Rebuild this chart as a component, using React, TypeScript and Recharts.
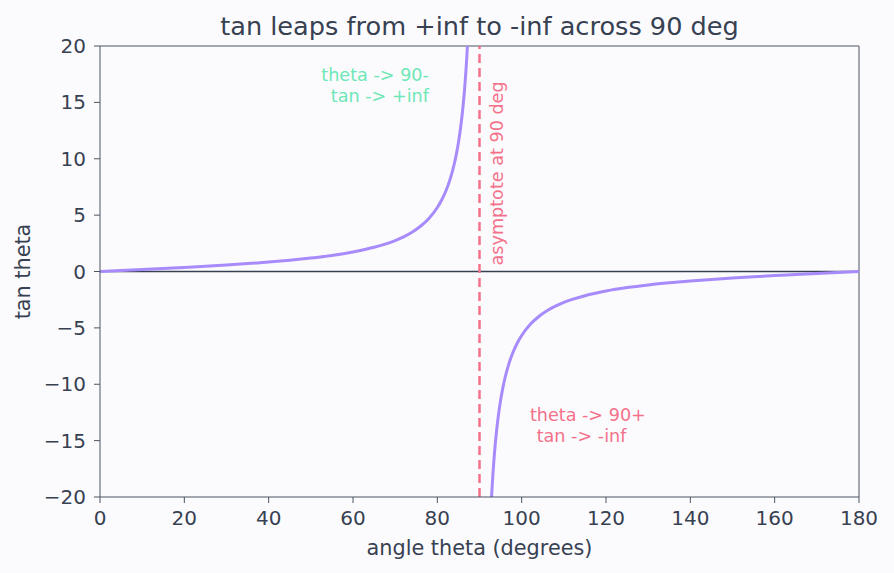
import React from "react";
import {
  LineChart,
  Line,
  XAxis,
  YAxis,
  ReferenceLine,
  ReferenceDot,
} from "recharts";

// Left branch: theta approaching 90 from below (degrees, tan value)
const leftTheta = [0, 5, 10, 15, 20, 25, 30, 35, 40, 45, 50, 55, 60, 65, 68, 70, 72, 74, 76, 78, 80, 81, 82, 83, 84, 84.5, 85, 85.5, 86, 86.5, 87, 87.5, 88];
const leftTan = [0, 0.087, 0.176, 0.268, 0.364, 0.466, 0.577, 0.7, 0.839, 1.0, 1.192, 1.428, 1.732, 2.145, 2.475, 2.747, 3.078, 3.487, 4.011, 4.705, 5.671, 6.314, 7.115, 8.144, 9.514, 10.385, 11.43, 12.706, 14.301, 16.35, 19.081, 22.904, 28.636];

// Right branch: theta leaving 90 from above
const rightTheta = [92, 92.5, 93, 93.5, 94, 94.5, 95, 95.5, 96, 97, 98, 99, 100, 102, 104, 106, 108, 110, 112, 115, 120, 125, 130, 135, 140, 145, 150, 155, 160, 165, 170, 175, 180];
const rightTan = [-28.636, -22.904, -19.081, -16.35, -14.301, -12.706, -11.43, -10.385, -9.514, -8.144, -7.115, -6.314, -5.671, -4.705, -4.011, -3.487, -3.078, -2.747, -2.475, -2.145, -1.732, -1.428, -1.192, -1.0, -0.839, -0.7, -0.577, -0.466, -0.364, -0.268, -0.176, -0.087, 0];

const xTicks = [0, 20, 40, 60, 80, 100, 120, 140, 160, 180];
const yTicks = [-20, -15, -10, -5, 0, 5, 10, 15, 20];

const leftData = leftTheta.map((t, i) => ({ theta: t, tan: leftTan[i] }));
const rightData = rightTheta.map((t, i) => ({ theta: t, tan: rightTan[i] }));

const FONT = "'DejaVu Sans', sans-serif";
const INK = "#374151";
const SPINE = "#4b5563";
const CURVE = "#a78bfa";
const ROSE = "#f4718a";
const MINT = "#6ee7b7";

const TICK_FS = 20;
const LABEL_FS = 20.8;
const NOTE_FS = 17.6;

const fmt = (v: number) => String(v).replace("-", "\u2212");

type Note = { x: number; y: number; text: string; color: string; anchor: "start" | "middle" | "end"; rotate?: boolean };

const notes: Note[] = [
  { x: 78.0, y: 17.4, text: "theta -> 90-", color: MINT, anchor: "end" },
  { x: 78.0, y: 15.6, text: "tan -> +inf", color: MINT, anchor: "end" },
  { x: 115.7, y: -12.75, text: "theta -> 90+", color: ROSE, anchor: "middle" },
  { x: 114.2, y: -14.55, text: "tan -> -inf", color: ROSE, anchor: "middle" },
  { x: 94.1, y: 8.7, text: "asymptote at 90 deg", color: ROSE, anchor: "middle", rotate: true },
];

export default function App() {
  return (
    <div style={{ position: "absolute", left: 0, top: 0, width: 894, height: 573, background: "#fbfbfe", fontFamily: FONT }}>
      <div
        style={{
          position: "absolute",
          left: 0,
          width: 959,
          top: 11,
          textAlign: "center",
          fontSize: 25.6,
          color: INK,
          fontFamily: FONT,
          lineHeight: "30px",
          whiteSpace: "nowrap",
        }}
      >
        tan leaps from +inf to -inf across 90 deg
      </div>
      <LineChart width={894} height={573} margin={{ top: 46, right: 35, bottom: 6, left: 40 }}>
        <XAxis
          type="number"
          dataKey="theta"
          domain={[0, 180]}
          ticks={xTicks}
          allowDataOverflow
          height={70}
          stroke={SPINE}
          tickSize={6}
          tickMargin={8}
          tick={{ fill: INK, fontSize: TICK_FS, fontFamily: FONT }}
          label={{ value: "angle theta (degrees)", position: "insideBottom", offset: 12, fill: INK, fontSize: LABEL_FS, fontFamily: FONT }}
        />
        <YAxis
          type="number"
          domain={[-20, 20]}
          ticks={yTicks}
          allowDataOverflow
          width={60}
          stroke={SPINE}
          tickSize={6}
          tickMargin={8}
          tickFormatter={fmt}
          tick={{ fill: INK, fontSize: TICK_FS, fontFamily: FONT }}
          label={{ value: "tan theta", angle: -90, position: "insideLeft", offset: -17, fill: INK, fontSize: LABEL_FS, fontFamily: FONT, style: { textAnchor: "middle" } }}
        />
        <ReferenceLine y={20} stroke={SPINE} strokeWidth={1} />
        <ReferenceLine x={180} stroke={SPINE} strokeWidth={1} />
        <ReferenceLine y={0} stroke={INK} strokeWidth={1.3} />
        <Line
          data={leftData}
          dataKey="tan"
          type="monotone"
          stroke={CURVE}
          strokeWidth={3}
          dot={false}
          isAnimationActive={false}
        />
        <Line
          data={rightData}
          dataKey="tan"
          type="monotone"
          stroke={CURVE}
          strokeWidth={3}
          dot={false}
          isAnimationActive={false}
        />
        <ReferenceLine x={90} stroke={ROSE} strokeWidth={2.5} strokeDasharray="9 5" />
        {notes.map((n, i) => (
          <ReferenceDot
            key={i}
            x={n.x}
            y={n.y}
            r={0}
            ifOverflow="visible"
            shape={(p: any) => (
              <text
                x={p.cx}
                y={p.cy}
                fill={n.color}
                fontSize={NOTE_FS}
                fontFamily={FONT}
                textAnchor={n.anchor}
                dominantBaseline="central"
                transform={n.rotate ? `rotate(-90 ${p.cx} ${p.cy})` : undefined}
              >
                {n.text}
              </text>
            )}
          />
        ))}
      </LineChart>
    </div>
  );
}
